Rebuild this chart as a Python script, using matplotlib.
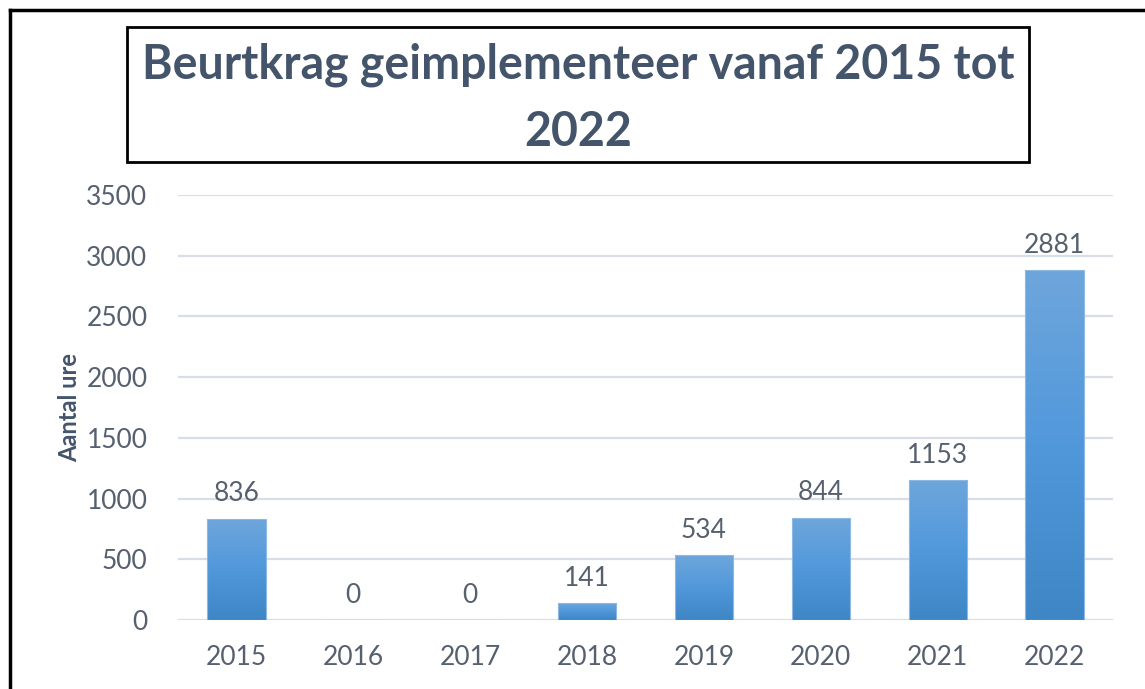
import numpy as np
import matplotlib.pyplot as plt
from matplotlib.patches import Rectangle
from matplotlib.colors import LinearSegmentedColormap

# data
years = ['2015', '2016', '2017', '2018', '2019', '2020', '2021', '2022']
hours = [836, 0, 0, 141, 534, 844, 1153, 2881]
yticks = [0, 500, 1000, 1500, 2000, 2500, 3000, 3500]

title_col = '#44546A'
text_col = '#56606E'
grid_col = '#D9DEE6'

plt.rcParams['font.family'] = ['Lato', 'DejaVu Sans']

fig = plt.figure(figsize=(11.45, 6.89), dpi=100)
ax = fig.add_axes([0.1555, 0.1001, 0.8166, 0.6168])

x = np.arange(len(years))
bars = ax.bar(x, hours, width=0.5, color='none', edgecolor='#8DB8E4', linewidth=0.8, zorder=3)

# vertical gradient inside each bar
cmap = LinearSegmentedColormap.from_list('bl', ['#3F86C6', '#5198DB', '#6EA6DC'])
grad = np.linspace(0, 1, 256).reshape(-1, 1)
for b in bars:
    if b.get_height() <= 0:
        continue
    im = ax.imshow(grad, cmap=cmap, origin='lower', aspect='auto', zorder=2,
                   extent=[b.get_x(), b.get_x() + b.get_width(), 0, b.get_height()])
    im.set_clip_path(b)

for xi, v in zip(x, hours):
    ax.text(xi, v + 100, str(v), ha='center', va='bottom', fontsize=19, color=text_col)

ax.set_xlim(-0.5, len(years) - 0.5)
ax.set_ylim(0, 3500)
ax.set_xticks(x)
ax.set_xticklabels(years)
ax.set_yticks(yticks)
ax.tick_params(axis='both', length=0, labelsize=19, labelcolor=text_col)
ax.tick_params(axis='x', pad=18)
ax.tick_params(axis='y', pad=22)
ax.grid(axis='y', color=grid_col, linewidth=1.6, zorder=0)
ax.set_axisbelow(True)
for s in ax.spines.values():
    s.set_visible(False)
ax.set_ylabel('Aantal ure', fontsize=17, fontweight='bold', color=title_col)
ax.yaxis.set_label_coords(-0.104, 0.5)

# title in a box
fig.patches.append(Rectangle((127 / 1145, 1 - 162 / 689), 902 / 1145, 135 / 689,
                             transform=fig.transFigure, fill=False, edgecolor='black', linewidth=2))
fig.text(578 / 1145, 1 - 98 / 689, 'Beurtkrag geimplementeer vanaf 2015 tot\n2022',
         ha='center', va='center', fontsize=33.5, fontweight='bold', color=title_col,
         linespacing=1.64)

# outer border (only top and left visible)
fig.add_artist(plt.Line2D([10 / 1145, 10 / 1145], [0, 1 - 10 / 689], transform=fig.transFigure,
                          color='black', linewidth=2.5))
fig.add_artist(plt.Line2D([10 / 1145, 1], [1 - 10 / 689, 1 - 10 / 689], transform=fig.transFigure,
                          color='black', linewidth=2.5))

fig.savefig('out.png', dpi=100)
